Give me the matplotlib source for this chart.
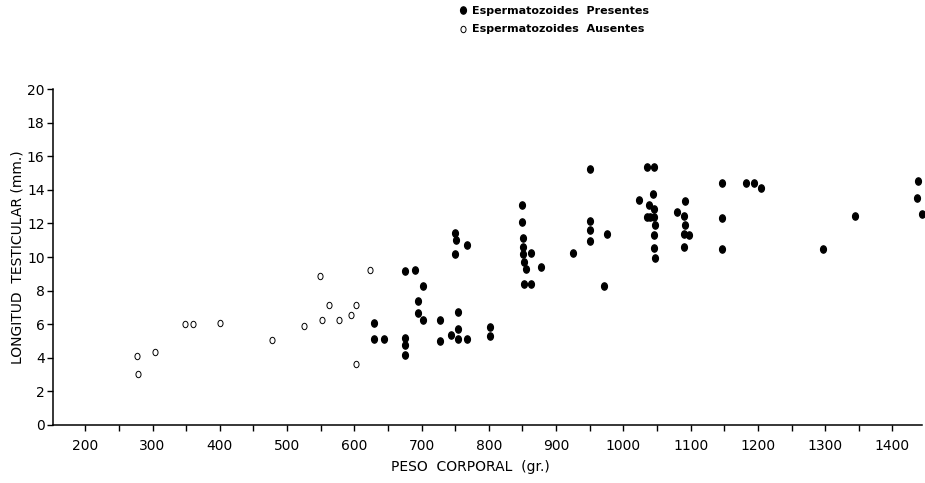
import matplotlib
matplotlib.use("Agg")
import matplotlib.pyplot as plt
from matplotlib.path import Path
from matplotlib.transforms import Affine2D

# Data
ausentes_x = [277, 278, 303, 348, 360, 400, 477, 525, 549, 552, 562, 577, 595, 603, 603, 624]
ausentes_y = [4.1, 3.05, 4.35, 6.0, 6.0, 6.07, 5.08, 5.88, 8.85, 6.27, 7.12, 6.27, 6.53, 7.12, 3.62, 9.2]

presentes_x = [629, 629, 644, 675, 690, 702, 694, 694, 702, 675, 676, 676,
               728, 728, 743, 754, 754, 754, 767, 802, 802, 750, 751, 767, 750,
               850, 850, 851, 851, 851, 863, 852, 855, 877, 852, 863,
               925, 950, 950, 951, 950, 975, 971,
               1035, 1046, 1044, 1023, 1038, 1046, 1035, 1040, 1046, 1047, 1046, 1046, 1047,
               1080, 1092, 1090, 1091, 1090, 1098, 1090,
               1147, 1147, 1147, 1182, 1194, 1205, 1297, 1344, 1438, 1436, 1444]
presentes_y = [6.09, 5.14, 5.14, 9.16, 9.24, 8.25, 7.4, 6.65, 6.27, 5.18, 4.79, 4.17,
               6.23, 4.99, 5.38, 6.75, 5.72, 5.12, 5.14, 5.82, 5.30, 11.45, 11.04, 10.72, 10.17,
               13.1, 12.1, 11.16, 10.62, 10.17, 10.25, 9.71, 9.28, 9.42, 8.41, 8.41,
               10.25, 15.25, 12.17, 11.61, 10.96, 11.34, 8.29,
               15.33, 15.33, 13.78, 13.39, 13.07, 12.86, 12.36, 12.36, 12.36, 11.91, 11.29, 10.56, 9.95,
               12.7, 13.33, 12.42, 11.93, 11.37, 11.29, 10.58,
               14.38, 12.34, 10.45, 14.38, 14.38, 14.12, 10.5, 12.42, 14.5, 13.49, 12.58]

x_ticks = [200, 300, 400, 500, 600, 700, 800, 900, 1000, 1100, 1200, 1300, 1400]
y_ticks = [0, 2, 4, 6, 8, 10, 12, 14, 16, 18, 20]

ellipse = Path.unit_circle().transformed(Affine2D().scale(0.8, 1.0))

fig = plt.figure(figsize=(9.25, 4.83), dpi=100)
ax = fig.add_axes([0.0573, 0.1201, 0.9395, 0.6956])

ax.plot(presentes_x, presentes_y, linestyle='none', marker=ellipse, markersize=5.2,
        markerfacecolor='black', markeredgecolor='black', clip_on=False,
        label='Espermatozoides  Presentes')
ax.plot(ausentes_x, ausentes_y, linestyle='none', marker=ellipse, markersize=4.6,
        markerfacecolor='white', markeredgecolor='black', markeredgewidth=0.7, clip_on=False,
        label='Espermatozoides  Ausentes')

ax.set_xlim(152, 1444)
ax.set_ylim(0, 20)
ax.set_xticks(x_ticks)
ax.set_xticks(range(250, 1450, 100), minor=True)
ax.set_yticks(y_ticks)
ax.tick_params(axis='both', which='both', direction='out', length=4, width=1, labelsize=10)
ax.tick_params(axis='x', pad=6)
ax.tick_params(axis='y', pad=2)
for s in ['top', 'right']:
    ax.spines[s].set_visible(False)
for s in ['left', 'bottom']:
    ax.spines[s].set_linewidth(1.1)

ax.set_xlabel('PESO  CORPORAL  (gr.)', fontsize=10)
ax.xaxis.set_label_coords(0.48, -0.125)
ax.xaxis.label.set_va('center')
ax.set_ylabel('LONGITUD  TESTICULAR (mm.)', fontsize=10)
ax.yaxis.set_label_coords(-0.041, 0.5)
ax.yaxis.label.set_va('center')

fig.legend(loc='upper left', bbox_to_anchor=(0.485, 1.008), frameon=False,
           handletextpad=0.4, labelspacing=0.75, handlelength=0.8,
           prop={'weight': 'bold', 'size': 8})

fig.savefig('out.png', dpi=100)
